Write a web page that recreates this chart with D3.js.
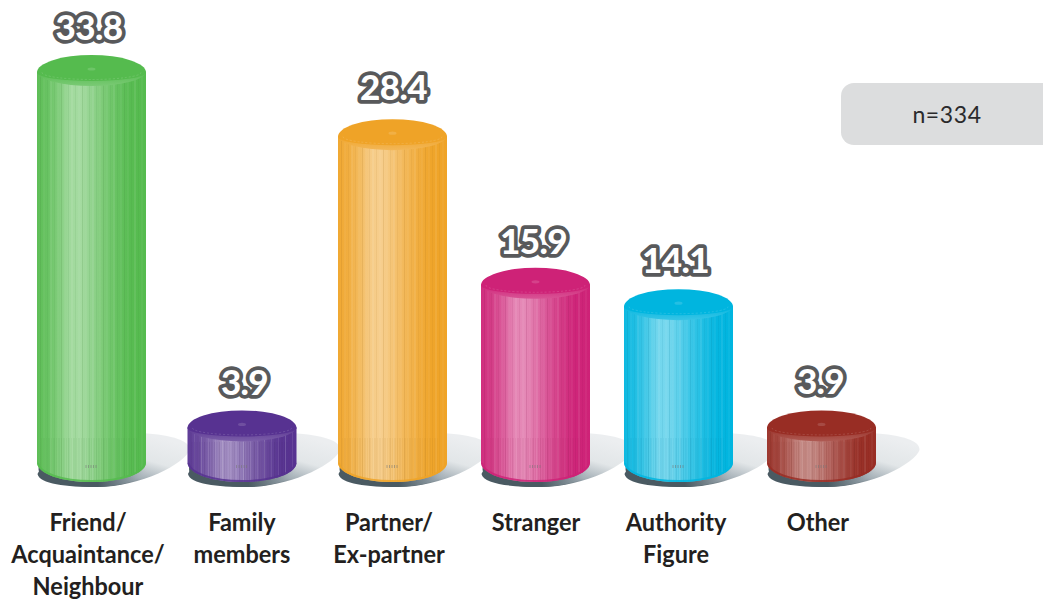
<!DOCTYPE html>
<html><head><meta charset="utf-8">
<script src="https://cdnjs.cloudflare.com/ajax/libs/d3/7.8.5/d3.min.js"></script>
<style>html,body{margin:0;padding:0;background:#fff}svg{display:block}</style></head>
<body><svg id="chart" width="1043" height="601"></svg>
<script>
const categories = ["Friend/Acquaintance/Neighbour","Family members","Partner/Ex-partner","Stranger","Authority Figure","Other"];
const categoryLines = [["Friend/","Acquaintance/","Neighbour"],["Family","members"],["Partner/","Ex-partner"],["Stranger"],["Authority","Figure"],["Other"]];
const values = [33.8,3.9,28.4,15.9,14.1,3.9];
const valueLabels = ["33.8","3.9","28.4","15.9","14.1","3.9"];
const colors = ["#55BB4E","#573291","#EFA327","#CE2277","#00B5DF","#982D24"];
const note = "n=334";

const svg = d3.select("#chart");
const defs = svg.append("defs");
const font = "Lato, 'Open Sans', sans-serif";

const x = d3.scaleOrdinal(categories,[91.5,242,392.5,535.5,678.5,821.5]);
const xCat = d3.scaleOrdinal(categories,[88,242,389,536,676,818]);
const xVal = d3.scaleOrdinal(categories,[89,244.5,393.5,533.5,675.5,820.5]);
const yVal = d3.scaleOrdinal(categories,[40,395,100,254,273,394]);
const y = d3.scaleLinear().domain([0,33.8]).range([474.3,72.5]);
const rx = 54.5, ry = 17.5, yBase = 464;

// note box
svg.append("rect").attr("x",841).attr("y",83).attr("width",230).attr("height",62).attr("rx",13).attr("fill","#dcddde");
svg.append("text").attr("x",947).attr("y",123).attr("text-anchor","middle")
  .attr("font-family",font).attr("font-size",23).attr("fill","#2a2a2c").attr("letter-spacing",0.6).text(note);

// shadow gradient
const sg = defs.append("linearGradient").attr("id","shadow").attr("x1",1).attr("y1",0.25).attr("x2",0.45).attr("y2",0.95);
[[0,"#eceef0"],[0.42,"#e2e6e8"],[0.75,"#a3aeb5"],[1,"#4a5a62"]].forEach(s=>sg.append("stop").attr("offset",s[0]).attr("stop-color",s[1]));
// contact crescent fades toward the right
const cg = defs.append("linearGradient").attr("id","contact").attr("x1",0).attr("x2",1).attr("y1",0).attr("y2",0);
[[0,"#4a5a62",1],[0.55,"#4a5a62",1],[0.85,"#8d9aa2",0.8],[1,"#b5bfc5",0]].forEach(s=>cg.append("stop").attr("offset",s[0]).attr("stop-color",s[1]).attr("stop-opacity",s[2]));

const highlightStops = [0,0.1,0.2,0.3,0.4,0.5,0.6,0.72,0.85,1];
const highlightAmt = [0.05,0.12,0.26,0.44,0.47,0.36,0.24,0.12,0.02,0];
const ribOffsets = d3.range(3,108,3.5);
const ribOffsetsLow = d3.range(4,100,2.5);
const markOffsets = [-6,-3.5,-1,1.5,4];

const bars = svg.selectAll("g.bar").data(categories).join("g").attr("class","bar");

// shadows behind everything
bars.append("path").attr("fill","url(#shadow)").attr("d",c=>{
  const cx=x(c);
  const p=d3.path();
  p.moveTo(cx-54,yBase+10);
  p.bezierCurveTo(cx-40,yBase-20,cx+20,yBase-33,cx+50,yBase-31);
  p.bezierCurveTo(cx+82,yBase-29,cx+99,yBase-23,cx+98,yBase-14);
  p.bezierCurveTo(cx+94,yBase-1,cx+50,yBase+23,cx+5,yBase+23);
  p.bezierCurveTo(cx-25,yBase+23,cx-52,yBase+20,cx-54,yBase+10);
  p.closePath();
  return p.toString();
});

bars.each(function(c,i){
  const g=d3.select(this), cx=x(c), top=y(values[i]), col=colors[i];
  const light=d3.interpolateRgb(col,"#ffffff");
  const dark=d3.interpolateRgb(col,"#000000");
  g.append("ellipse").attr("cx",cx+1).attr("cy",yBase+5).attr("rx",rx-0.5).attr("ry",ry+0.5).attr("fill","url(#contact)");

  const grad=defs.append("linearGradient").attr("id","side"+i).attr("x1",0).attr("x2",1).attr("y1",0).attr("y2",0);
  highlightStops.forEach((o,k)=>grad.append("stop").attr("offset",o).attr("stop-color",light(highlightAmt[k])));
  const body=d3.path();
  body.moveTo(cx-rx,top);
  body.lineTo(cx-rx,yBase-1);
  body.bezierCurveTo(cx-rx+1,yBase+10,cx-rx*0.55,yBase+18,cx,yBase+18);
  body.bezierCurveTo(cx+rx*0.55,yBase+18,cx+rx-1,yBase+10,cx+rx,yBase-1);
  body.lineTo(cx+rx,top);
  body.closePath();
  defs.append("clipPath").attr("id","clip"+i).append("path").attr("d",body.toString());
  g.append("path").attr("d",body.toString()).attr("fill",`url(#side${i})`);
  const ribs=g.append("g").attr("clip-path",`url(#clip${i})`);
  ribs.selectAll("rect.rib").data(ribOffsets).join("rect").attr("class","rib")
    .attr("x",d=>cx-rx+d).attr("y",top).attr("width",1).attr("height",yBase+18-top)
    .attr("fill",(d,k)=>k%2?"#ffffff":dark(0.3)).attr("opacity",(d,k)=>k%3===0?0.16:0.09);
  const lowTop=Math.max(top+14,yBase-26);
  ribs.selectAll("rect.low").data(ribOffsetsLow).join("rect").attr("class","low")
    .attr("x",d=>cx-rx+d).attr("y",lowTop).attr("width",1).attr("height",yBase+18-lowTop)
    .attr("fill",dark(0.25)).attr("opacity",(d,k)=>k%2?0.14:0.07);
  ribs.append("path").attr("fill","none").attr("stroke",col).attr("stroke-width",4).attr("opacity",0.85)
    .attr("d",`M${cx-rx},${yBase-1}C${cx-rx+1},${yBase+10} ${cx-rx*0.55},${yBase+18} ${cx},${yBase+18}C${cx+rx*0.55},${yBase+18} ${cx+rx-1},${yBase+10} ${cx+rx},${yBase-1}`);
  ribs.selectAll("rect.mark").data(markOffsets).join("rect").attr("class","mark")
    .attr("x",d=>cx+d).attr("y",yBase+1).attr("width",1).attr("height",3).attr("fill","#777").attr("opacity",0.55);

  const rimG=defs.append("linearGradient").attr("id","rim"+i).attr("x1",0).attr("x2",0).attr("y1",0).attr("y2",1);
  rimG.append("stop").attr("offset",0).attr("stop-color",col);
  rimG.append("stop").attr("offset",1).attr("stop-color",light(0.22));
  g.append("path").attr("fill",`url(#rim${i})`)
    .attr("d",`M${cx-rx},${top-1}A${rx},14.5 0 0 0 ${cx+rx},${top-1}Z`);
  g.append("path").attr("fill",col)
    .attr("d",`M${cx-rx},${top}A${rx},${ry} 0 0 1 ${cx+rx},${top}A${rx},8.5 0 0 1 ${cx-rx},${top}Z`);
  g.append("path").attr("fill","none").attr("stroke",light(0.2)).attr("stroke-width",0.7).attr("stroke-dasharray","2 2")
    .attr("d",`M${cx-rx+5},${top}A${rx-5},7 0 0 0 ${cx+rx-5},${top}`);
  g.append("ellipse").attr("cx",cx).attr("cy",top-3.5).attr("rx",4).attr("ry",1.6).attr("fill",light(0.14));
});

// value labels
svg.selectAll("text.val").data(categories).join("text").attr("class","val")
  .attr("x",c=>xVal(c)).attr("y",c=>yVal(c))
  .attr("text-anchor","middle").attr("font-family",font).attr("font-weight",900).attr("font-size",35)
  .attr("letter-spacing",-0.6)
  .attr("fill","#ffffff").attr("stroke","#58595b").attr("stroke-width",7.5).attr("stroke-linejoin","round")
  .attr("paint-order","stroke").text((c,i)=>valueLabels[i]);

// category labels
const cat = svg.selectAll("text.cat").data(categories).join("text").attr("class","cat")
  .attr("text-anchor","middle").attr("font-family",font).attr("font-weight",700).attr("font-size",25).attr("fill","#231f20");
cat.each(function(c,i){
  d3.select(this).selectAll("tspan").data(categoryLines[i]).join("tspan")
    .attr("x",xCat(c)).attr("y",(d,k)=>531+k*32).text(d=>d)
    .each(function(){
      d3.select(this).attr("lengthAdjust","spacingAndGlyphs").attr("textLength",this.getComputedTextLength()*0.94);
    });
});
</script></body></html>
